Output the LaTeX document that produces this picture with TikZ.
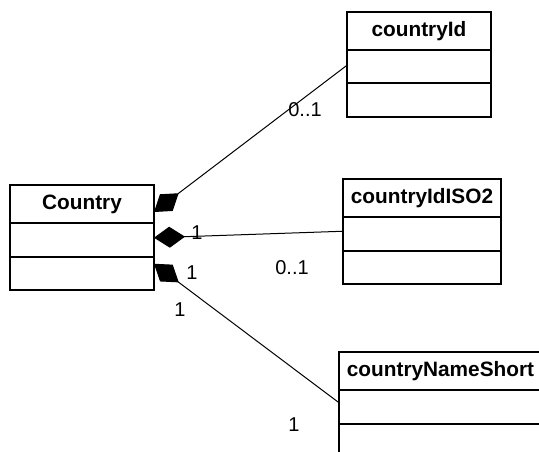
\documentclass[tikz,border=0pt]{standalone}
\usepackage{fontspec}
\setmainfont{Liberation Sans}
\usetikzlibrary{arrows.meta,positioning}
\tikzset{
  % class boxes
  class head/.style = {
    draw,
    line width=2pt,
    outer sep=0pt,
    inner sep=0pt,
    minimum height=38pt,
    font=\fontsize{20.8}{25}\selectfont\bfseries,
  },
  class part/.style = {
    draw,
    line width=2pt,
    outer sep=0pt,
    inner sep=0pt,
    minimum height=33.5pt,
  },
  % associations
  composite/.style = {
    line width=1pt,
    {Diamond[length=31pt,width=21pt]}-,
  },
  mult/.style = {
    font=\fontsize{20}{24}\selectfont,
    inner sep=0pt,
  },
}
\begin{document}
\begin{tikzpicture}[x=1pt,y=-1pt]
  \useasboundingbox (0,0) rectangle (539,452);
  % Country
  \node[class head, anchor=north west, minimum width=144pt] (country) at (10,185) {Country};
  \node[class part, minimum width=144pt, below=0pt of country] (country attr) {};
  \node[class part, minimum width=144pt, below=0pt of country attr] (country ops) {};
  % countryId
  \node[class head, anchor=north west, minimum width=144pt] (id) at (347,12) {countryId};
  \node[class part, minimum width=144pt, below=0pt of id] (id attr) {};
  \node[class part, minimum width=144pt, below=0pt of id attr] (id ops) {};
  % countryIdISO2
  \node[class head, anchor=north west, minimum width=158pt] (iso) at (343,179) {countryIdISO2};
  \node[class part, minimum width=158pt, below=0pt of iso] (iso attr) {};
  \node[class part, minimum width=158pt, below=0pt of iso attr] (iso ops) {};
  % countryNameShort
  \node[class head, anchor=north west, minimum width=203pt] (short) at (339,352) {countryNameShort};
  \node[class part, minimum width=203pt, below=0pt of short] (short attr) {};
  \node[class part, minimum width=203pt, below=0pt of short attr] (short ops) {};

  \draw[composite] ([yshift=-8pt]country.east) -- ([yshift=1.5pt]id attr.west);
  \draw[composite] ([yshift=2pt]country attr.east) -- ([yshift=2.5pt]iso attr.west);
  \draw[composite] ([yshift=9.5pt]country ops.east) -- ([yshift=4pt]short attr.west);

  % multiplicities
  \node[mult] (id mult) at (305,110) {0..1};
  \node[mult] (iso own) at (197,233) {1};
  \node[mult] (iso mult) at (292,268) {0..1};
  \node[mult] (short own) at (192,273) {1};
  \node[mult] (short low) at (180,310) {1};
  \node[mult] (short mult) at (294,425) {1};
\end{tikzpicture}
\end{document}
